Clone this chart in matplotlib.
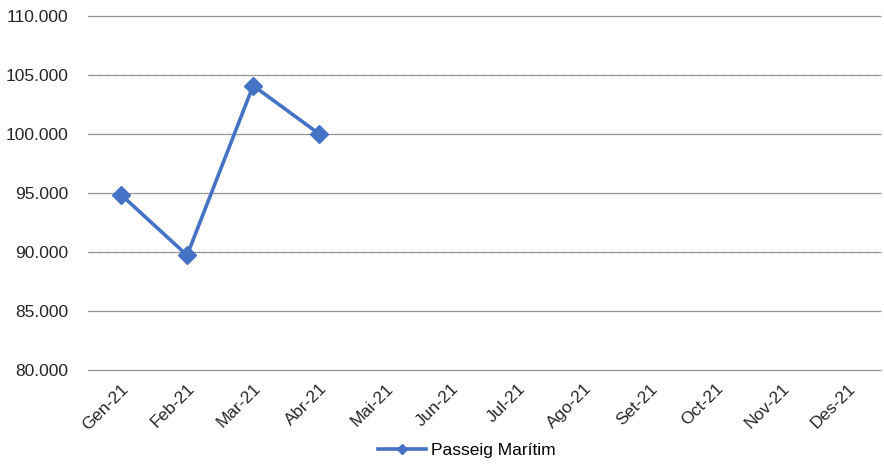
import matplotlib.pyplot as plt
from matplotlib.lines import Line2D
from matplotlib.ticker import FuncFormatter

months = ["Gen-21", "Feb-21", "Mar-21", "Abr-21", "Mai-21", "Jun-21",
          "Jul-21", "Ago-21", "Set-21", "Oct-21", "Nov-21", "Des-21"]
values = [94860, 89720, 104100, 100000]
series_name = "Passeig Marítim"

plt.rcParams['font.family'] = ['Liberation Sans', 'DejaVu Sans']
color = "#4472C4"

fig = plt.figure(figsize=(8.84, 4.65), dpi=100)
ax = fig.add_axes([0.0995, 0.2043, 0.8971, 0.7613])

x = list(range(len(months)))
ax.plot(x[:len(values)], values, color=color, lw=2.6, marker="D", ms=9.5,
        solid_joinstyle="round")

ax.set_xlim(-0.5, len(months) - 0.5)
ax.set_ylim(80000, 110000)
ax.set_yticks(range(80000, 110001, 5000))
ax.yaxis.set_major_formatter(FuncFormatter(lambda v, p: f"{int(v):,}".replace(",", ".")))
ax.set_xticks(x)
ax.set_xticklabels(months, rotation=45, ha="right", rotation_mode="anchor")
ax.tick_params(length=0, labelsize=12.5, colors="#262626")
ax.tick_params(axis="y", pad=14)
ax.tick_params(axis="x", pad=8)
ax.grid(axis="y", color="#555555", lw=0.9, ls=(0, (1, 0.6)))
for gl in ax.get_ygridlines():
    gl.set_clip_on(False)
ax.set_axisbelow(True)
for s in ax.spines.values():
    s.set_visible(False)

handle = Line2D([], [], color=color, lw=2.6, marker="D", ms=5)
fig.legend([handle], [series_name], loc="center", bbox_to_anchor=(0.528, 0.032),
           frameon=False, fontsize=12.5, handlelength=2.8, handletextpad=0.3)

fig.savefig("out.png", dpi=100)
